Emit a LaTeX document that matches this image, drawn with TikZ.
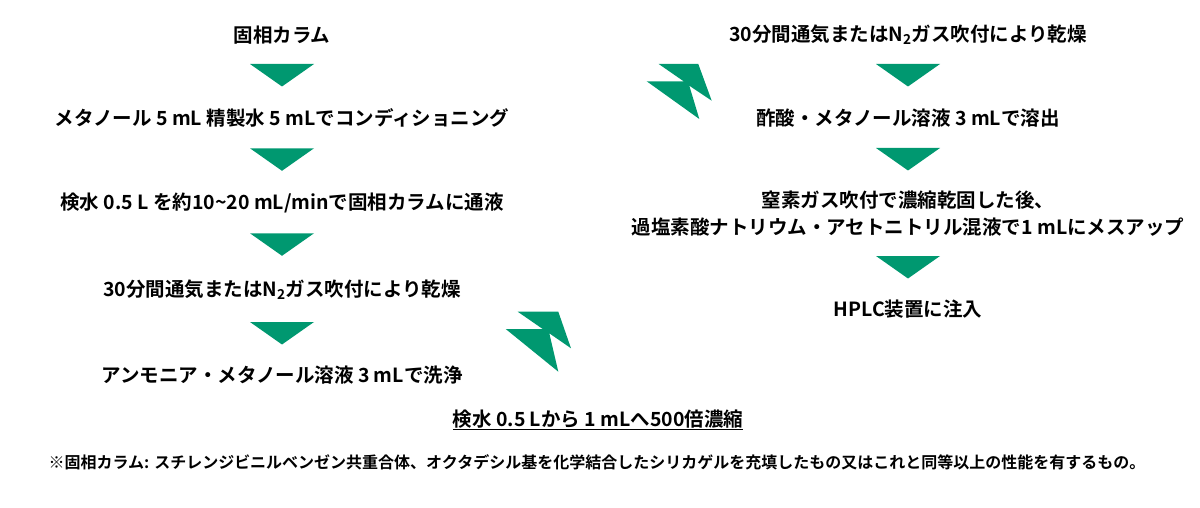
\documentclass[tikz,border=0pt]{standalone}
\usepackage{fontspec}
\setmainfont{Noto Sans CJK JP}[BoldFont={Noto Sans CJK JP Bold}]
\definecolor{emerald}{RGB}{0,152,112}

\begin{document}
\begin{tikzpicture}[x=1pt,y=-1pt,
  lbl/.style={font=\fontsize{19.5}{27}\selectfont\bfseries,inner sep=0pt,align=center},
  note/.style={font=\fontsize{16}{19}\selectfont\bfseries,inner sep=0pt},
  tri/.style={fill=emerald}]
\useasboundingbox (0,0) rectangle (1200,508);
\path
  coordinate (tri1) at (250,64)
  coordinate (tri2) at (250,148.3)
  coordinate (tri3) at (250,233.3)
  coordinate (tri4) at (250,322)
  coordinate (tri5) at (876,64)
  coordinate (tri6) at (876,148)
  coordinate (tri7) at (876,256)
  coordinate (zig1) at (505.7,311.7)
  coordinate (zig2) at (646.7,64)
  ;
% left column
\node[lbl] (col) at (282,35) {固相カラム};
\node[lbl] (cond) at (282,118) {メタノール 5 mL 精製水 5 mLでコンディショニング};
\node[lbl] (load) at (282,203) {検水 0.5 L を約10\textasciitilde20 mL/minで固相カラムに通液};
\node[lbl] (dryA) at (282,290) {30分間通気またはN\textsubscript{2}ガス吹付により乾燥};
\node[lbl] (wash) at (282,375) {アンモニア・メタノール溶液 3 mLで洗浄};
% right column
\node[lbl] (dryB) at (908,35) {30分間通気またはN\textsubscript{2}ガス吹付により乾燥};
\node[lbl] (elut) at (908,118) {酢酸・メタノール溶液 3 mLで溶出};
\node[lbl] (conc) at (908,213.5) {窒素ガス吹付で濃縮乾固した後、\\過塩素酸ナトリウム・アセトニトリル混液で1 mLにメスアップ};
\node[lbl] (hplc) at (908,309) {HPLC装置に注入};
% bottom
\node[lbl] (ratio) at (598,420) {\underline{検水 0.5 Lから 1 mLへ500倍濃縮}};
\node[note] (foot) at (597,462) {※固相カラム: スチレンジビニルベンゼン共重合体、オクタデシル基を化学結合したシリカゲルを充填したもの又はこれと同等以上の性能を有するもの。};
% arrows
\fill[tri] (tri1) -- ++(64,0) -- ++(-32,22.5) -- cycle;
\fill[tri] (tri2) -- ++(64,0) -- ++(-32,22.5) -- cycle;
\fill[tri] (tri3) -- ++(64,0) -- ++(-32,22.5) -- cycle;
\fill[tri] (tri4) -- ++(64,0) -- ++(-32,22.5) -- cycle;
\fill[tri] (tri5) -- ++(64,0) -- ++(-32,22.5) -- cycle;
\fill[tri] (tri6) -- ++(64,0) -- ++(-32,22.5) -- cycle;
\fill[tri] (tri7) -- ++(64,0) -- ++(-32,22.5) -- cycle;
\fill[tri,shift={(zig1)}]
  (12,0) -- (52.6,0) -- (65.3,36.6) -- (43.6,21.6) --
  (52.6,60) -- (0,17.3) -- (37,17.3) -- cycle;
\fill[tri,shift={(zig2)}]
  (12,0) -- (51.6,0) -- (65,36.7) -- (42.6,21.7) --
  (52.6,55) -- (0,17.3) -- (37,17.3) -- cycle;
\end{tikzpicture}
\end{document}
